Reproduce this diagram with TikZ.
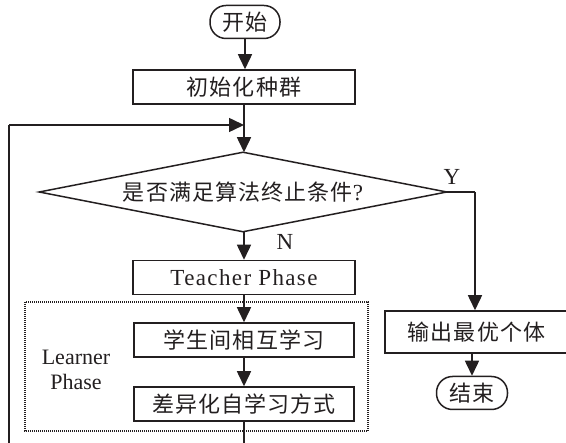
\documentclass[tikz,border=0pt]{standalone}
\usepackage{fontspec}
\setmainfont{Liberation Serif}
\newfontfamily\cjk[LetterSpace=5]{Noto Sans CJK SC}
\newfontfamily\lat[LetterSpace=6]{Liberation Serif}
\usetikzlibrary{shapes.geometric,arrows.meta}
\definecolor{ink}{RGB}{35,31,32}
\tikzset{
  base/.style={draw=ink, line width=1.5pt, text=ink, inner sep=0pt, align=center},
  procbox/.style={base, rectangle, minimum width=222pt, minimum height=34pt},
  termbox/.style={base, rectangle, rounded corners=16pt, minimum width=70pt, minimum height=33pt},
  decbox/.style={base, draw=none, rectangle, minimum width=406pt, minimum height=78pt},
  arr/.style={draw=ink, line width=1.5pt, -{Triangle[length=15pt,width=14pt]}},
  ln/.style={draw=ink, line width=1.5pt},
  cn/.style={font=\cjk\fontsize{22}{27}\selectfont},
  lt/.style={font=\lat\fontsize{23}{25}\selectfont, text=ink},
}
\begin{document}
\begin{tikzpicture}[x=1pt,y=-1pt]
\useasboundingbox (0,0) rectangle (566,443);
\node[termbox, cn] (start) at (245,22) {开始};
\node[procbox, cn] (init) at (244,87) {初始化种群};
\node[decbox] (dec) at (243,192) {{\cjk\fontsize{22}{27}\selectfont 是否满足算法终止条件}{\fontsize{23}{25}\selectfont ?}};
\draw[ln, line join=miter] (dec.west) -- (dec.north) -- (dec.east) -- (dec.south) -- cycle;
\node[procbox, lt] (teach) at (244,277.5) {Teacher Phase};
\node[procbox, cn, minimum width=220pt] (learn1) at (244,340) {学生间相互学习};
\node[procbox, cn, minimum width=220pt] (learn2) at (244,404) {差异化自学习方式};
\node[base, draw=none, font=\fontsize{22}{25}\selectfont] (lp) at (76,370) {Learner\\Phase};
\node[procbox, cn, minimum width=183pt, minimum height=42pt] (out) at (476.5,332) {输出最优个体};
\node[termbox, cn, minimum width=71pt] (end) at (472,393) {结束};
\coordinate (mj) at (244,125);
\coordinate (yc) at (475,192);
\coordinate (bl) at (244,452);
\coordinate (br) at (9,452);
\coordinate (tl) at (9,125);
\draw[ink, line width=1.2pt, dash pattern=on 1pt off 1pt] (25,302) rectangle (368,431);
\draw[arr] (start) -- (start |- init.north);
\draw[arr] (init.south) -- (init.south |- dec.north);
\draw[arr] (init.south |- dec.south) -- (teach.north);
\draw[arr] (teach.south) -- (learn1.north);
\draw[arr] (learn1.south) -- (learn2.north);
\draw[ln] (learn2.south) -- (bl) -- (br) -- (tl);
\draw[arr] (tl) -- (mj);
\draw[ln] (dec.east) -- (yc);
\draw[arr] (yc) -- (yc |- out.north);
\draw[arr] (out.south -| end) -- (end.north);
\node[lt] (ylab) at (452,177) {Y};
\node[lt] (nlab) at (285,242) {N};
\end{tikzpicture}
\end{document}
